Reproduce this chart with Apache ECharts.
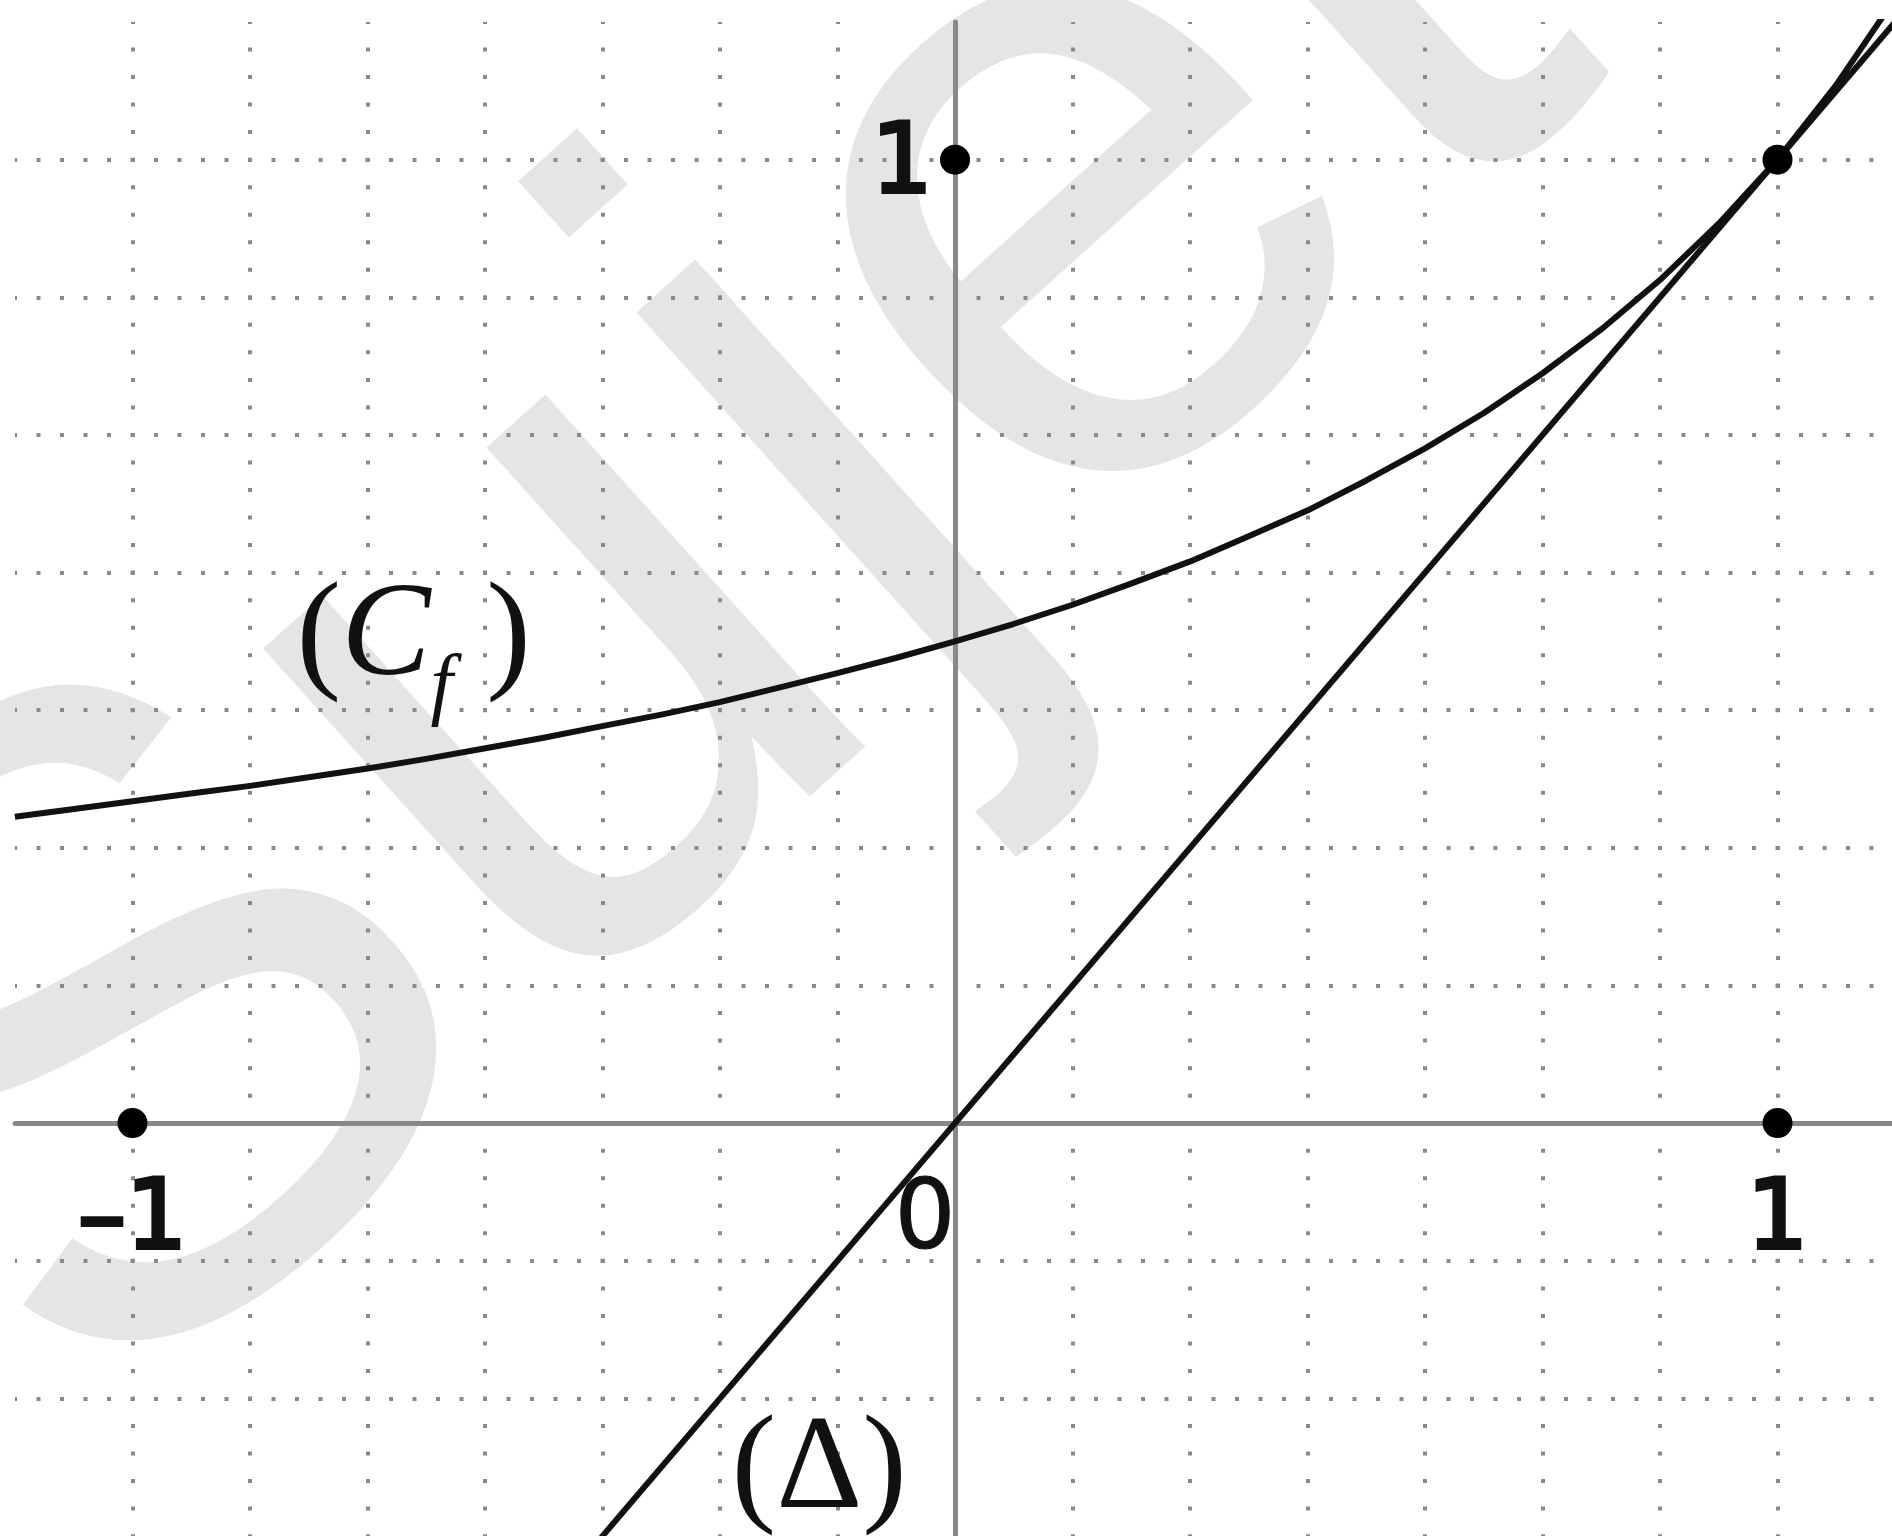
<!DOCTYPE html>
<html>
<head>
<meta charset="utf-8">
<title>Courbe Cf et droite Delta</title>
<script src="https://cdn.jsdelivr.net/npm/echarts@6/dist/echarts.min.js"></script>
<style>
html, body { margin: 0; padding: 0; background: #fff; }
#chart { width: 1892px; height: 1536px; }
</style>
</head>
<body>
<div id="chart"></div>
<script>
// courbe (Cf), valeurs
var curveX = [-1.143, -1.071, -1, -0.929, -0.857, -0.786, -0.714, -0.643, -0.571, -0.5, -0.429, -0.357, -0.286, -0.214, -0.143, -0.071,
    0, 0.071, 0.143, 0.214, 0.286, 0.357, 0.429, 0.5, 0.571, 0.643, 0.714, 0.786, 0.857, 0.929, 1, 1.071, 1.15];
var curveY = [0.318, 0.326, 0.334, 0.342, 0.350, 0.359, 0.368, 0.378, 0.389, 0.400, 0.412, 0.424, 0.437, 0.452, 0.467, 0.483,
    0.500, 0.518, 0.538, 0.560, 0.583, 0.609, 0.636, 0.667, 0.700, 0.737, 0.778, 0.824, 0.875, 0.934, 1.0, 1.077, 1.176];
// droite (Delta)
var deltaX = [-0.43, 1.15];
var deltaY = [-0.43, 1.15];
// points marques
var pointX = [-1, 1, 0, 1];
var pointY = [0, 0, 1, 1];
// graduations affichees
var xLabelValues = [-1, 0, 1];
var xLabelTexts = ['–1', '0', '1'];
var yLabelValues = [1];
var yLabelTexts = ['1'];
var step = 1 / 7;

function zip(xs, ys) {
    return xs.map(function (x, i) { return [x, ys[i]]; });
}

// etiquettes des graduations, posees sur les axes
var tickLabelData = xLabelValues.map(function (v, i) {
    return {
        value: [v, 0],
        label: {
            formatter: xLabelTexts[i],
            offset: [v === 0 ? -30 : 0, 100],
            textBorderWidth: v === 0 ? 1 : 4
        }
    };
}).concat(yLabelValues.map(function (v, i) {
    return {
        value: [0, v],
        label: { formatter: yLabelTexts[i], offset: [-53, 7] }
    };
}));

var serif = 'Liberation Serif';
var dotColor = '#8a8a8a';

var chart = echarts.init(document.getElementById('chart'));
chart.setOption({
    animation: false,
    backgroundColor: '#fff',
    grid: { left: 15, right: -3, top: 22, bottom: 0, outerBoundsMode: 'none' },
    graphic: [{
        type: 'text',
        x: 688,
        y: 572,
        rotation: 42 * Math.PI / 180,
        z: -100,
        silent: true,
        style: {
            text: 'Sujet',
            fill: '#e5e5e5',
            fontFamily: 'Liberation Sans',
            fontSize: 900,
            align: 'center',
            verticalAlign: 'middle'
        }
    }],
    xAxis: {
        type: 'value',
        min: -8 * step,
        max: 8 * step,
        interval: step,
        axisLine: { onZero: true, lineStyle: { color: '#888', width: 5 } },
        axisTick: { show: false },
        axisLabel: { show: false },
        splitLine: {
            show: true,
            showMinLine: false,
            lineStyle: { color: dotColor, width: 4, type: [4, 23.53], dashOffset: 2 }
        }
    },
    yAxis: {
        type: 'value',
        min: -3 * step,
        max: 8 * step - 1e-9,
        interval: step,
        axisLine: { onZero: true, lineStyle: { color: '#888', width: 5 } },
        axisTick: { show: false },
        axisLabel: { show: false },
        splitLine: {
            show: true,
            showMinLine: false,
            showMaxLine: false,
            lineStyle: { color: dotColor, width: 4, type: [4, 19.5], dashOffset: 2 }
        }
    },
    series: [
        {
            name: 'Cf',
            type: 'line',
            data: zip(curveX, curveY),
            showSymbol: false,
            smooth: false,
            lineStyle: { color: '#111', width: 6, join: 'round' },
            z: 3,
            markPoint: {
                symbol: 'circle',
                symbolSize: 1,
                itemStyle: { color: 'rgba(0,0,0,0)' },
                data: [{ coord: [-0.658, 0.503] }],
                label: {
                    show: true,
                    position: 'inside',
                    formatter: '{p|(}{c|C}{s|f}{p| )}',
                    rich: {
                        p: { fontFamily: serif, fontSize: 134, lineHeight: 134, color: '#111', verticalAlign: 'top' },
                        c: { fontFamily: serif, fontStyle: 'italic', fontSize: 134, lineHeight: 134, color: '#111', verticalAlign: 'top' },
                        s: { fontFamily: serif, fontStyle: 'italic', fontSize: 80, lineHeight: 80, color: '#111', verticalAlign: 'top', padding: [77, 0, 0, 0] }
                    }
                }
            }
        },
        {
            name: 'Delta',
            type: 'line',
            data: zip(deltaX, deltaY),
            showSymbol: false,
            lineStyle: { color: '#111', width: 6 },
            z: 3,
            markPoint: {
                symbol: 'circle',
                symbolSize: 1,
                itemStyle: { color: 'rgba(0,0,0,0)' },
                data: [{ coord: [-0.165, -0.362] }],
                label: {
                    show: true,
                    position: 'inside',
                    formatter: '(Δ)',
                    fontFamily: serif,
                    fontSize: 134,
                    color: '#111'
                }
            }
        },
        {
            name: 'points',
            type: 'scatter',
            data: zip(pointX, pointY),
            symbolSize: 30,
            itemStyle: { color: '#000', opacity: 1 },
            z: 5
        },
        {
            name: 'graduations',
            type: 'scatter',
            data: tickLabelData,
            symbol: 'circle',
            symbolSize: 1,
            itemStyle: { color: 'rgba(0,0,0,0)', opacity: 1 },
            label: {
                show: true,
                position: 'inside',
                fontFamily: 'DejaVu Sans',
                fontSize: 96,
                fontWeight: 'normal',
                color: '#111',
                textBorderColor: '#111',
                textBorderWidth: 4,
                opacity: 1
            },
            z: 6
        }
    ]
});
</script>
</body>
</html>
